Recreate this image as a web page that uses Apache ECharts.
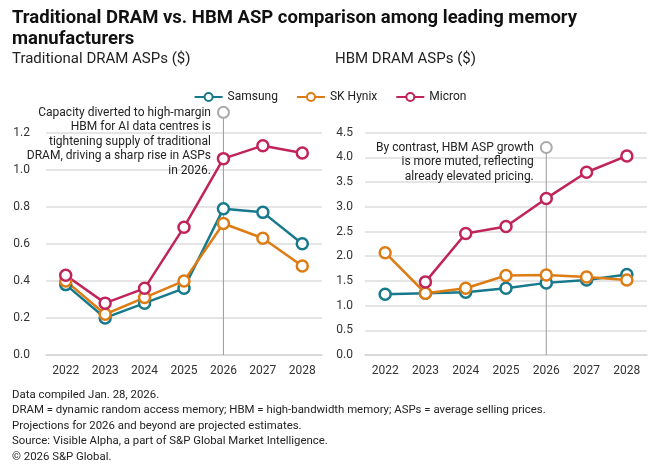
<!DOCTYPE html>
<html lang="en">
<head>
    <meta charset="UTF-8">
    <script src="https://cdn.jsdelivr.net/npm/echarts@6/dist/echarts.min.js"></script>
    <title>DRAM vs HBM ASP</title>
</head>
<body style="margin:0;">
    <div id="main" style="width: 660px; height: 472px;"></div>
    <script>
        // data
        var years = ['2022', '2023', '2024', '2025', '2026', '2027', '2028'];
        var seriesNames = ['Samsung', 'SK Hynix', 'Micron'];
        var colors = ['#17798c', '#de7c14', '#c0245a'];

        var dramSamsung = [0.38, 0.20, 0.28, 0.36, 0.79, 0.77, 0.60];
        var dramHynix   = [0.40, 0.22, 0.31, 0.40, 0.71, 0.63, 0.48];
        var dramMicron  = [0.43, 0.28, 0.36, 0.69, 1.06, 1.13, 1.09];

        var hbmSamsung = [1.23, 1.25, 1.27, 1.35, 1.46, 1.52, 1.63];
        var hbmHynix   = [2.07, 1.25, 1.35, 1.61, 1.62, 1.58, 1.52];
        var hbmMicron  = [null, 1.48, 2.46, 2.60, 3.17, 3.70, 4.03];

        // annotation markers (year, value)
        var noteYear = '2026';
        var noteDram = 1.31;
        var noteHbm = 4.20;
        var noteDramText = 'Capacity diverted to high-margin\nHBM for AI data centres is\ntightening supply of traditional\nDRAM, driving a sharp rise in ASPs\nin 2026.';
        var noteHbmText = 'By contrast, HBM ASP growth\nis more muted, reflecting\nalready elevated pricing.';

        var footNotes = [
            'Data compiled Jan. 28, 2026.',
            'DRAM = dynamic random access memory; HBM = high-bandwidth memory; ASPs = average selling prices.',
            'Projections for 2026 and beyond are projected estimates.',
            'Source: Visible Alpha, a part of S&P Global Market Intelligence.',
            '\u00a9 2026 S&P Global.'
        ];

        var FONT = 'Roboto';
        var myChart = echarts.init(document.getElementById('main'));

        function lineSeries(name, data, idx, color) {
            return {
                name: name,
                type: 'line',
                xAxisIndex: idx,
                yAxisIndex: idx,
                data: data,
                symbol: 'circle',
                symbolSize: 11,
                z: 3,
                itemStyle: { color: '#fff', borderColor: color, borderWidth: 2.5 },
                lineStyle: { color: color, width: 2.5 },
                emphasis: { disabled: true }
            };
        }

        // grey marker above 2026 with a drop line and a text note
        function noteSeries(idx, value, text) {
            return {
                type: 'line',
                xAxisIndex: idx,
                yAxisIndex: idx,
                clip: false,
                z: 1,
                silent: true,
                data: [
                    { value: [noteYear, 0], symbol: 'none' },
                    {
                        value: [noteYear, value],
                        symbol: 'circle',
                        symbolSize: 11,
                        label: {
                            show: true,
                            position: 'left',
                            distance: 6,
                            align: 'right',
                            formatter: text,
                            fontFamily: FONT,
                            fontSize: 12,
                            lineHeight: 14.5,
                            color: '#222',
                            offset: [0, text.split('\n').length * 7.25 - 7]
                        }
                    }
                ],
                itemStyle: { color: '#fff', borderColor: '#aaa', borderWidth: 2 },
                lineStyle: { color: '#9a9a9a', width: 1 }
            };
        }

        var xAxisBase = {
            type: 'category',
            data: years,
            boundaryGap: true,
            axisTick: { show: false },
            axisLine: { lineStyle: { color: '#d6d6d6', width: 1.5 } },
            axisLabel: { fontFamily: FONT, fontSize: 12, color: '#333', margin: 10 }
        };

        var option = {
            animation: false,
            title: [
                {
                    text: 'Traditional DRAM vs. HBM ASP comparison among leading memory\nmanufacturers',
                    left: 12, top: 8, padding: 0,
                    textStyle: { fontFamily: FONT, fontSize: 18.5, fontWeight: 'bold', color: '#111', lineHeight: 21 }
                },
                {
                    text: 'Traditional DRAM ASPs ($)',
                    left: 12, top: 52, padding: 0,
                    textStyle: { fontFamily: FONT, fontSize: 15, fontWeight: 'normal', color: '#222' }
                },
                {
                    text: 'HBM DRAM ASPs ($)',
                    left: 335, top: 52, padding: 0,
                    textStyle: { fontFamily: FONT, fontSize: 15, fontWeight: 'normal', color: '#222' }
                },
                {
                    text: footNotes.join('\n'),
                    left: 12, top: 387, padding: 0,
                    textStyle: { fontFamily: FONT, fontSize: 11.4, fontWeight: 'normal', color: '#222', lineHeight: 15.6 }
                }
            ],
            legend: {
                data: seriesNames,
                top: 86,
                left: 'center',
                itemWidth: 28,
                itemHeight: 10,
                itemGap: 18,
                textStyle: { fontFamily: FONT, fontSize: 12, color: '#222' }
            },
            grid: [
                { left: 46, right: 338, top: 132.7, bottom: 117 },
                { left: 365, right: 13, top: 132.7, bottom: 117 }
            ],
            xAxis: [
                Object.assign({ gridIndex: 0 }, xAxisBase),
                Object.assign({ gridIndex: 1 }, xAxisBase)
            ],
            yAxis: [
                {
                    type: 'value', gridIndex: 0, min: 0, max: 1.2, interval: 0.2,
                    axisLine: { show: false }, axisTick: { show: false },
                    splitLine: { lineStyle: { color: '#dcdcdc', width: 1.5 } },
                    axisLabel: { fontFamily: FONT, fontSize: 12, color: '#333', margin: 16,
                        formatter: function (v) { return v.toFixed(1); } }
                },
                {
                    type: 'value', gridIndex: 1, min: 0, max: 4.5, interval: 0.5,
                    axisLine: { show: false }, axisTick: { show: false },
                    splitLine: { lineStyle: { color: '#dcdcdc', width: 1.5 } },
                    axisLabel: { fontFamily: FONT, fontSize: 12, color: '#333', margin: 12,
                        formatter: function (v) { return v.toFixed(1); } }
                }
            ],
            series: [
                noteSeries(0, noteDram, noteDramText),
                noteSeries(1, noteHbm, noteHbmText),
                lineSeries('Samsung', dramSamsung, 0, colors[0]),
                lineSeries('SK Hynix', dramHynix, 0, colors[1]),
                lineSeries('Micron', dramMicron, 0, colors[2]),
                lineSeries('Samsung', hbmSamsung, 1, colors[0]),
                lineSeries('SK Hynix', hbmHynix, 1, colors[1]),
                lineSeries('Micron', hbmMicron, 1, colors[2])
            ]
        };
        myChart.setOption(option);
    </script>
</body>
</html>
